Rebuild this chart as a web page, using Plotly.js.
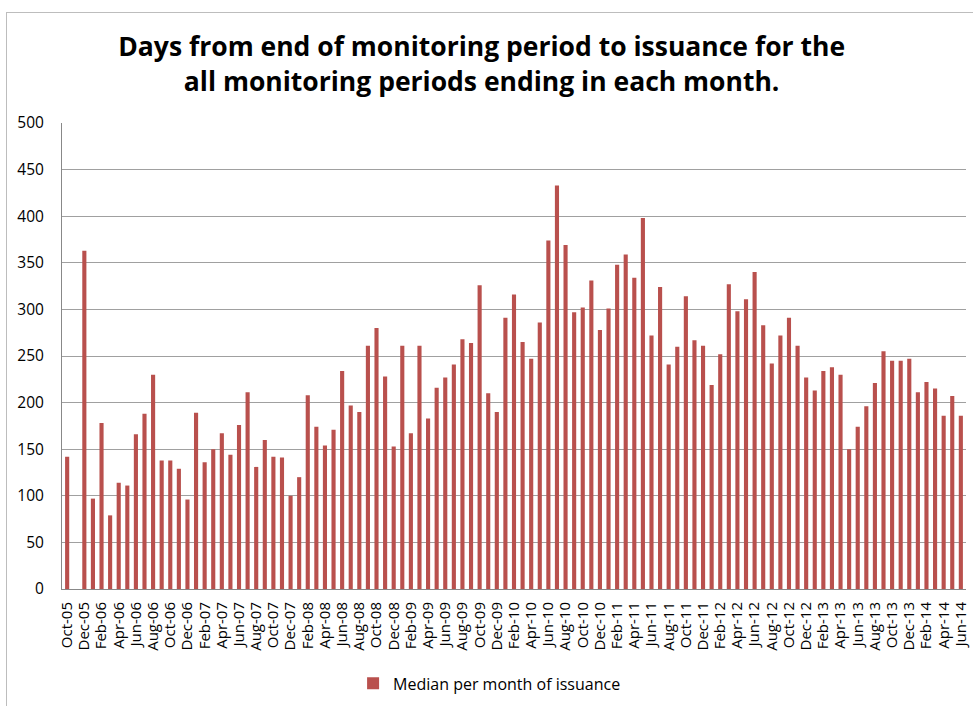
<!DOCTYPE html>
<html>
<head>
<meta charset="utf-8">
<script src="https://cdn.plot.ly/plotly-3.0.1.min.js"></script>
<style>
html,body{margin:0;padding:0;background:#fff;}
#frame{position:absolute;left:6px;top:12px;width:980px;height:700px;border-left:1px solid #bdbdbd;border-top:1px solid #bdbdbd;pointer-events:none;}
#chart{width:973px;height:706px;}
</style>
</head>
<body>
<div id="chart"></div>
<div id="frame"></div>
<script>
const months = ['Oct-05','Nov-05','Dec-05','Jan-06','Feb-06','Mar-06','Apr-06','May-06','Jun-06','Jul-06','Aug-06','Sep-06','Oct-06','Nov-06','Dec-06',
'Jan-07','Feb-07','Mar-07','Apr-07','May-07','Jun-07','Jul-07','Aug-07','Sep-07','Oct-07','Nov-07','Dec-07',
'Jan-08','Feb-08','Mar-08','Apr-08','May-08','Jun-08','Jul-08','Aug-08','Sep-08','Oct-08','Nov-08','Dec-08',
'Jan-09','Feb-09','Mar-09','Apr-09','May-09','Jun-09','Jul-09','Aug-09','Sep-09','Oct-09','Nov-09','Dec-09',
'Jan-10','Feb-10','Mar-10','Apr-10','May-10','Jun-10','Jul-10','Aug-10','Sep-10','Oct-10','Nov-10','Dec-10',
'Jan-11','Feb-11','Mar-11','Apr-11','May-11','Jun-11','Jul-11','Aug-11','Sep-11','Oct-11','Nov-11','Dec-11',
'Jan-12','Feb-12','Mar-12','Apr-12','May-12','Jun-12','Jul-12','Aug-12','Sep-12','Oct-12','Nov-12','Dec-12',
'Jan-13','Feb-13','Mar-13','Apr-13','May-13','Jun-13','Jul-13','Aug-13','Sep-13','Oct-13','Nov-13','Dec-13',
'Jan-14','Feb-14','Mar-14','Apr-14','May-14','Jun-14'];

const medianDays = [142,null,363,97,178,79,114,111,166,188,230,138,138,129,96,
189,136,150,167,144,176,211,131,160,142,141,100,
120,208,174,154,171,234,197,190,261,280,228,153,
261,167,261,183,216,227,241,268,264,326,210,190,
291,316,265,247,286,374,433,369,297,302,331,278,
301,348,359,334,398,272,324,241,260,314,267,261,
219,252,327,298,311,340,283,242,272,291,261,227,
213,234,238,230,150,174,196,221,255,245,245,247,
211,222,215,186,207,186];

const tickLabels = months.filter((m, i) => i % 2 === 0);
const yTicks = [0,50,100,150,200,250,300,350,400,450,500];

const trace = {
  type: 'bar',
  x: months,
  y: medianDays,
  name: 'Median per month of issuance',
  marker: {color: '#B9504D'},
  hoverinfo: 'x+y'
};

const layout = {
  width: 973, height: 706,
  margin: {l: 62, r: 7, t: 123, b: 116},
  paper_bgcolor: '#ffffff',
  plot_bgcolor: '#ffffff',
  bargap: 0.52,
  font: {family: '"Open Sans", sans-serif', color: '#000'},
  title: {
    text: '<b>Days from end of monitoring period to issuance for the<br>all monitoring periods ending in each month.</b>',
    font: {size: 26.5, family: '"Open Sans", sans-serif', color: '#000'},
    x: 0.495, xanchor: 'center',
    y: 0.92, yanchor: 'middle', yref: 'container'
  },
  xaxis: {
    type: 'category',
    tickmode: 'array',
    tickvals: tickLabels,
    ticktext: tickLabels,
    tickangle: -90,
    tickfont: {size: 15, family: '"Open Sans", sans-serif', color: '#000'},
    showgrid: false,
    showline: true,
    linecolor: '#888',
    linewidth: 1,
    ticks: '',
    ticklabelstandoff: 6,
    range: [-0.6, months.length - 0.4]
  },
  yaxis: {
    range: [0, 500],
    tickmode: 'array',
    tickvals: yTicks,
    tickfont: {size: 15.5, family: '"Open Sans", sans-serif', color: '#000'},
    showgrid: true,
    gridcolor: '#A0A0A0',
    gridwidth: 1,
    showline: true,
    linecolor: '#888',
    zeroline: false,
    ticks: '',
    ticklabelstandoff: 14
  },
  showlegend: true,
  legend: {
    orientation: 'h',
    x: 0.473, xanchor: 'center',
    y: -0.2, yanchor: 'middle',
    itemwidth: 30,
    font: {size: 16, family: '"Open Sans", sans-serif', color: '#000'}
  }
};

Plotly.newPlot('chart', [trace], layout, {displayModeBar: false, staticPlot: true});
</script>
</body>
</html>
